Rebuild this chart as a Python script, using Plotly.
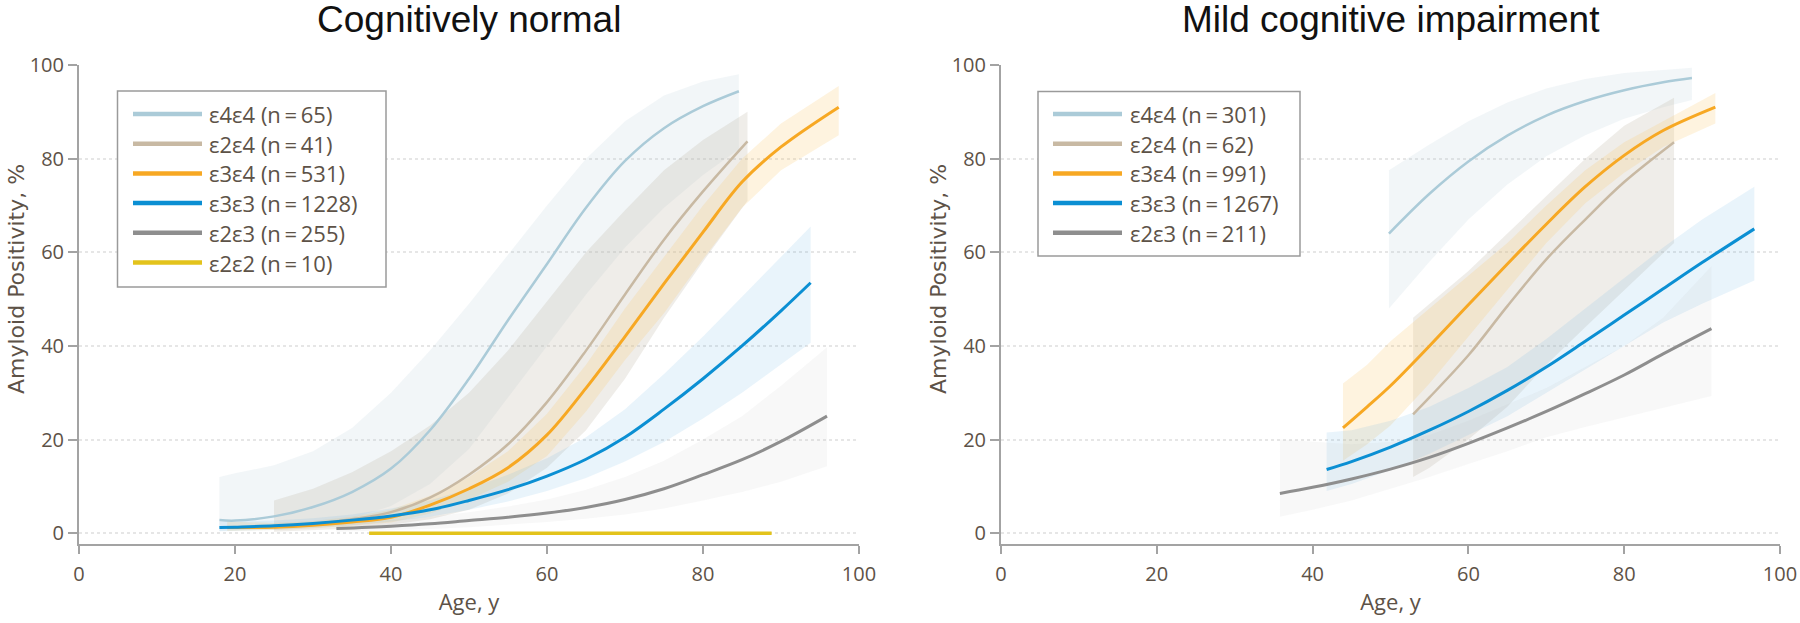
import plotly.graph_objects as go

# ---------------- data ----------------
genotypes = ["ε4ε4", "ε2ε4", "ε3ε4", "ε3ε3", "ε2ε3", "ε2ε2"]
cn_counts = [65, 41, 531, 1228, 255, 10]
mci_counts = [301, 62, 991, 1267, 211]

# Cognitively normal
cn_e4e4_age = [18, 20, 25, 30, 35, 40, 45, 50, 55, 60, 65, 70, 75, 80, 84.6]
cn_e4e4_val = [2.8, 2.7, 3.6, 5.6, 8.8, 13.8, 22, 33, 45.5, 57.5, 69.5, 79.5, 86.5, 91.2, 94.4]
cn_e4e4_hi = [12, 12.8, 14.5, 17.5, 22.5, 30, 39, 49, 59.5, 70, 80, 88, 93.5, 96.5, 98]
cn_e4e4_lo = [0.5, 0.6, 1.0, 1.8, 3.2, 5.8, 10.5, 18, 29, 40, 51, 61, 69.5, 76.5, 82]

cn_e2e4_age = [25, 30, 35, 40, 45, 50, 55, 60, 65, 70, 75, 80, 85.7]
cn_e2e4_val = [1.3, 2.0, 3.0, 4.5, 7.6, 12.5, 19, 28, 39, 51, 62.7, 73, 83.7]
cn_e2e4_hi = [7, 9.5, 13, 17.5, 23, 30, 39, 49.5, 60, 69, 77.5, 84, 90]
cn_e2e4_lo = [0.3, 0.6, 1.0, 1.8, 3.0, 5.0, 8.5, 14, 22, 33, 46, 58, 71]

cn_e3e4_age = [19, 25, 30, 35, 40, 45, 50, 55, 60, 65, 70, 75, 80, 85, 90, 97.4]
cn_e3e4_val = [1.2, 1.3, 1.7, 2.4, 3.4, 6.0, 9.5, 14, 21, 31, 42, 53.3, 64.3, 75, 82.5, 91]
cn_e3e4_hi = [2.5, 2.2, 2.6, 3.5, 5, 8, 12, 17.5, 25.5, 36, 48, 59, 70, 80, 87.5, 95.5]
cn_e3e4_lo = [0.5, 0.7, 1.0, 1.6, 2.3, 4.2, 7.2, 11, 16.5, 26, 37, 47, 58.5, 69.5, 77.5, 85]

cn_e3e3_age = [18, 20, 25, 30, 35, 40, 45, 50, 55, 60, 65, 70, 75, 80, 85, 90, 93.8]
cn_e3e3_val = [1.2, 1.3, 1.6, 2.1, 2.8, 3.7, 5.0, 7.0, 9.3, 12.2, 15.8, 20.5, 26.5, 33, 40, 47.5, 53.5]
cn_e3e3_hi = [2.5, 2.5, 2.7, 3.2, 4.0, 5.3, 7.0, 9.5, 12.5, 16, 20.5, 26.5, 34, 42, 50.5, 59, 65.5]
cn_e3e3_lo = [0.4, 0.5, 0.7, 1.1, 1.7, 2.5, 3.5, 5.0, 6.8, 9.0, 11.8, 15.3, 19.5, 24.5, 30, 36, 40.7]

cn_e2e3_age = [33, 40, 45, 50, 55, 60, 65, 70, 75, 80, 85, 90, 95.9]
cn_e2e3_val = [1.0, 1.5, 2.0, 2.7, 3.4, 4.3, 5.5, 7.2, 9.5, 12.5, 15.7, 19.6, 25]
cn_e2e3_hi = [2.2, 2.8, 3.5, 4.5, 5.7, 7.2, 9.3, 12, 15.5, 20, 25, 31.5, 39.7]
cn_e2e3_lo = [0.3, 0.6, 0.9, 1.3, 1.8, 2.4, 3.1, 4.0, 5.3, 7.0, 8.8, 11, 14.3]

cn_e2e2_age = [37.2, 88.8]
cn_e2e2_val = [0, 0]

# Mild cognitive impairment
mci_e4e4_age = [49.8, 55, 60, 65, 70, 75, 80, 85, 88.7]
mci_e4e4_val = [64, 72.5, 79.4, 84.9, 89.2, 92.3, 94.6, 96.3, 97.2]
mci_e4e4_hi = [77.5, 83, 88, 92, 95, 97, 98.3, 99, 99.4]
mci_e4e4_lo = [48, 58, 67, 74.5, 80.5, 85, 88.5, 91, 92.5]

mci_e2e4_age = [52.9, 55, 60, 65, 70, 75, 80, 86.4]
mci_e2e4_val = [25.4, 29, 38, 48.5, 58.5, 67, 75, 83.5]
mci_e2e4_hi = [46, 49, 56, 64, 72, 80, 87, 93]
mci_e2e4_lo = [12, 14, 20, 27, 36, 44, 52, 62]

mci_e3e4_age = [43.9, 47, 50, 55, 60, 65, 70, 75, 80, 85, 91.7]
mci_e3e4_val = [22.5, 27, 31.5, 40, 48.8, 57.5, 66, 74, 80.7, 86, 91]
mci_e3e4_hi = [32, 36, 41, 48, 55, 62, 70, 77.5, 83.5, 88, 94]
mci_e3e4_lo = [15.5, 19, 23, 32, 42, 52, 62, 70.5, 77, 82.5, 87.5]

mci_e3e3_age = [41.8, 45, 50, 55, 60, 65, 70, 75, 80, 85, 90, 96.7]
mci_e3e3_val = [13.6, 15.3, 18.4, 22, 26, 30.5, 35.5, 41, 46.6, 52.2, 57.8, 65]
mci_e3e3_hi = [21.5, 22, 24, 27, 31, 35.5, 41.5, 48, 54.5, 61, 67, 74]
mci_e3e3_lo = [9, 10.5, 13.5, 17, 21, 25, 30, 35, 40, 45, 49, 54]

mci_e2e3_age = [35.8, 40, 45, 50, 55, 60, 65, 70, 75, 80, 85, 91.2]
mci_e2e3_val = [8.5, 9.8, 11.6, 13.7, 16.2, 19.2, 22.5, 26, 29.8, 33.8, 38.3, 43.7]
mci_e2e3_hi = [20, 19.5, 19, 19.5, 21, 24, 27.5, 31, 35.5, 40, 46, 57]
mci_e2e3_lo = [3.5, 5, 7, 9.5, 12, 14.8, 17.5, 20.5, 22.7, 24.8, 26.8, 29.3]

x_ticks = [0, 20, 40, 60, 80, 100]
y_ticks = [0, 20, 40, 60, 80, 100]

# ---------------- styles ----------------
line_colors = {
    "ε4ε4": "#abcbd8",
    "ε2ε4": "#c8b9a3",
    "ε3ε4": "#f7a823",
    "ε3ε3": "#0b8fd3",
    "ε2ε3": "#8e8e8e",
    "ε2ε2": "#e3c31c",
}
band_colors = {
    "ε4ε4": "rgba(175,200,215,0.17)",
    "ε2ε4": "rgba(190,180,162,0.24)",
    "ε3ε4": "rgba(250,200,110,0.22)",
    "ε3ε3": "rgba(110,180,225,0.15)",
    "ε2ε3": "rgba(175,175,175,0.09)",
}
line_widths = {"ε4ε4": 2.5, "ε2ε4": 2.5, "ε3ε4": 3, "ε3ε3": 3, "ε2ε3": 3, "ε2ε2": 3.5}

TEXT = "#5d5247"
AXIS = "#a3a3a3"
FONT = "Open Sans"

cn = {
    "ε4ε4": (cn_e4e4_age, cn_e4e4_val, cn_e4e4_lo, cn_e4e4_hi),
    "ε2ε4": (cn_e2e4_age, cn_e2e4_val, cn_e2e4_lo, cn_e2e4_hi),
    "ε3ε4": (cn_e3e4_age, cn_e3e4_val, cn_e3e4_lo, cn_e3e4_hi),
    "ε3ε3": (cn_e3e3_age, cn_e3e3_val, cn_e3e3_lo, cn_e3e3_hi),
    "ε2ε3": (cn_e2e3_age, cn_e2e3_val, cn_e2e3_lo, cn_e2e3_hi),
    "ε2ε2": (cn_e2e2_age, cn_e2e2_val, None, None),
}
mci = {
    "ε4ε4": (mci_e4e4_age, mci_e4e4_val, mci_e4e4_lo, mci_e4e4_hi),
    "ε2ε4": (mci_e2e4_age, mci_e2e4_val, mci_e2e4_lo, mci_e2e4_hi),
    "ε3ε4": (mci_e3e4_age, mci_e3e4_val, mci_e3e4_lo, mci_e3e4_hi),
    "ε3ε3": (mci_e3e3_age, mci_e3e3_val, mci_e3e3_lo, mci_e3e3_hi),
    "ε2ε3": (mci_e2e3_age, mci_e2e3_val, mci_e2e3_lo, mci_e2e3_hi),
}

W, H = 1800, 623
M_T, M_B = 65, 79
PLOT_H = H - M_T - M_B

fig = go.Figure()


def add_panel(data, xa, ya):
    # confidence bands first
    for g, (age, val, lo, hi) in data.items():
        if lo is None:
            continue
        fig.add_trace(go.Scatter(
            x=list(age) + list(age)[::-1],
            y=list(hi) + list(lo)[::-1],
            fill="toself", fillcolor=band_colors[g],
            line=dict(width=0), mode="lines", hoverinfo="skip",
            showlegend=False, xaxis=xa, yaxis=ya,
        ))
    for g, (age, val, lo, hi) in data.items():
        fig.add_trace(go.Scatter(
            x=age, y=val, mode="lines", name=g,
            line=dict(color=line_colors[g], width=line_widths[g], shape="spline", smoothing=1.0),
            showlegend=False, xaxis=xa, yaxis=ya,
        ))


add_panel(cn, "x", "y")
add_panel(mci, "x2", "y2")

axis_common = dict(
    showline=True, linecolor=AXIS, linewidth=2,
    ticks="outside", tickcolor=AXIS, tickwidth=1.5,
    tickfont=dict(family=FONT, size=20, color=TEXT),
    zeroline=False, automargin=False,
)
xcommon = dict(axis_common, range=[0, 100], tickvals=x_ticks, ticklen=8, showgrid=False,
               ticklabelstandoff=3,
               title=dict(text="Age, y", font=dict(family=FONT, size=22, color=TEXT), standoff=9))
ycommon = dict(axis_common, range=[-2.3, 100], tickvals=y_ticks, ticklen=9,
               showgrid=True, gridcolor="#e6e6e6", gridwidth=2, griddash="dot")

dom1 = [79 / W, 859 / W]
dom2 = [1001 / W, 1780 / W]

fig.update_layout(
    width=W, height=H,
    margin=dict(l=0, r=0, t=M_T, b=M_B),
    plot_bgcolor="white", paper_bgcolor="white",
    xaxis=dict(xcommon, domain=dom1, anchor="y"),
    yaxis=dict(ycommon, domain=[0, 1], anchor="x"),
    xaxis2=dict(xcommon, domain=dom2, anchor="y2"),
    yaxis2=dict(ycommon, domain=[0, 1], anchor="x2"),
    showlegend=False,
)


def py(pix):
    return (H - M_B - pix) / PLOT_H


# panel titles and y-axis titles
for text, dom in (("Cognitively normal", dom1), ("Mild cognitive impairment", dom2)):
    fig.add_annotation(text=text, xref="paper", yref="paper",
                       x=(dom[0] + dom[1]) / 2, y=py(19), xanchor="center", yanchor="middle",
                       showarrow=False, font=dict(family="Liberation Sans", size=37, color="#111111"))
    fig.add_annotation(text="Amyloid Positivity, %", xref="paper", yref="paper",
                       x=(dom[0] * W - 63) / W, y=py(279), xanchor="center", yanchor="middle",
                       textangle=-90, showarrow=False,
                       font=dict(family="DejaVu Sans", size=22, color=TEXT))


# manual legends
def add_legend(names, counts, box, line_x, text_x, row0, step):
    x0, y0, x1, y1 = box
    fig.add_shape(type="rect", xref="paper", yref="paper",
                  x0=x0 / W, x1=x1 / W, y0=py(y1), y1=py(y0),
                  line=dict(color="#9a9a9a", width=1.5), fillcolor="white", layer="above")
    for i, (g, n) in enumerate(zip(names, counts)):
        yy = py(row0 + i * step)
        fig.add_shape(type="line", xref="paper", yref="paper",
                      x0=line_x[0] / W, x1=line_x[1] / W, y0=yy, y1=yy,
                      line=dict(color=line_colors[g], width=4.5), layer="above")
        fig.add_annotation(text=f"{g} (n\u2009=\u2009{n})", xref="paper", yref="paper",
                           x=text_x / W, y=yy, xanchor="left", yanchor="middle", showarrow=False,
                           font=dict(family=FONT, size=22, color=TEXT))


add_legend(genotypes, cn_counts, (117.5, 91, 386, 287), (133, 202), 207, 114, 29.7)
add_legend(genotypes[:5], mci_counts, (1038, 91.5, 1300, 256), (1053, 1122), 1128, 114, 29.7)

fig.write_html("out.html", config={"displayModeBar": False},
               post_script="document.body.style.margin='0';")
